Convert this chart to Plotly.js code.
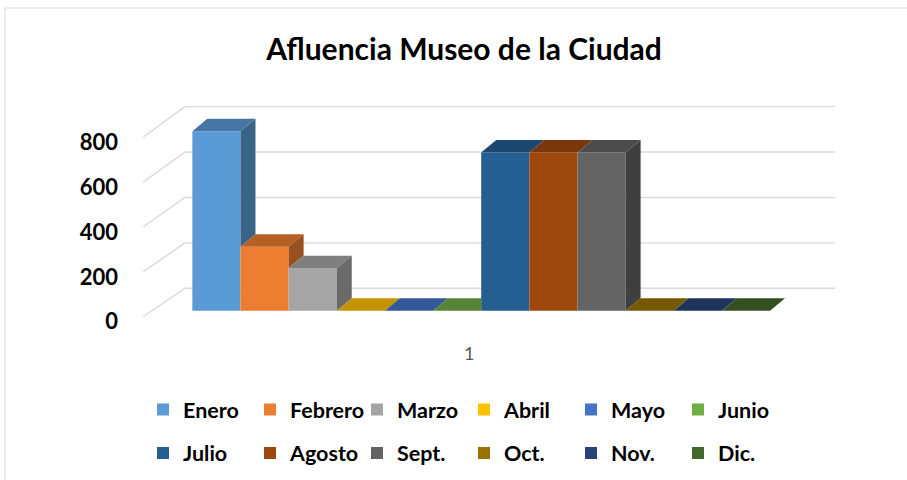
<!DOCTYPE html>
<html>
<head>
<meta charset="utf-8">
<script src="https://cdn.plot.ly/plotly-3.0.1.min.js"></script>
<style>html,body{margin:0;padding:0;background:#fff;}#chart{width:907px;height:480px;}</style>
</head>
<body>
<div id="chart"></div>
<script>
// ---- data ----
const categories = ['1'];
const months = ['Enero','Febrero','Marzo','Abril','Mayo','Junio','Julio','Agosto','Sept.','Oct.','Nov.','Dic.'];
const visitors = [800, 285, 190, 0, 0, 0, 705, 705, 705, 0, 0, 0];
const yTicks = [0, 200, 400, 600, 800];
const yTickText = ['0', '200', '400', '600', '800'];
const colors = ['#5B9BD5','#ED7D31','#A5A5A5','#FFC000','#4472C4','#70AD47',
                '#255E91','#9E480E','#636363','#997300','#264478','#43682B'];

// ---- layout geometry (styling) ----
const W = 907, H = 480;
const M = {l: 143, r: 72, t: 100, b: 147};
const plotW = W - M.l - M.r, plotH = H - M.t - M.b;
const xRange = [-0.4887, 0.5113];
const yRange = [-99.4, 939];
const bargap = 0.1652;
const pxX = plotW / (xRange[1] - xRange[0]);
const pxY = plotH / (yRange[1] - yRange[0]);
const depthX = 15 / pxX, depthY = 12.4 / pxY;      // bar depth
const wallX = 42 / pxX;                             // side wall depth

function shade(hex, f) {
  const n = parseInt(hex.slice(1), 16);
  const r = Math.round(((n >> 16) & 255) * f), g = Math.round(((n >> 8) & 255) * f), b = Math.round((n & 255) * f);
  return 'rgb(' + r + ',' + g + ',' + b + ')';
}

const traces = [];
const n = months.length;
const groupW = 1 - bargap, barW = groupW / n;
// front faces: real bar traces
months.forEach((m, i) => {
  traces.push({
    type: 'bar', name: m, x: [0], y: [visitors[i]],
    marker: {color: colors[i], line: {width: 0}},
    legend: i < 6 ? 'legend' : 'legend2',
    hoverinfo: 'name+y'
  });
});
// 3D top and side faces derived from the same values
months.forEach((m, i) => {
  const v = visitors[i];
  const next = i < n - 1 ? visitors[i + 1] : 0;
  const x1 = -groupW / 2 + i * barW, x2 = x1 + barW;
  let tx, ty;
  if (next > v) {
    const h = Math.min(next, v + depthY);
    const xd = x2 + depthX * (h - v) / depthY;
    tx = [x1, x2, x2, xd, x2 + depthX, x1 + depthX, x1];
    ty = [v, v, h, h, v + depthY, v + depthY, v];
  } else {
    tx = [x1, x2, x2 + depthX, x1 + depthX, x1];
    ty = [v, v, v + depthY, v + depthY, v];
  }
  traces.push({type: 'scatter', mode: 'lines', x: tx, y: ty, fill: 'toself',
    fillcolor: shade(colors[i], 0.77), line: {width: 0}, showlegend: false, hoverinfo: 'skip'});
  if (v > next) {
    traces.push({type: 'scatter', mode: 'lines',
      x: [x2, x2 + depthX, x2 + depthX, x2, x2],
      y: [next, next + depthY, v + depthY, v, next],
      fill: 'toself', fillcolor: shade(colors[i], 0.64), line: {width: 0},
      showlegend: false, hoverinfo: 'skip'});
  }
});

// wall gridlines
const gridColor = '#d9d9d9';
const shapes = [];
yTicks.forEach(t => {
  const fy = t - 27, by = 1.012 * t + 100;
  shapes.push({type: 'line', xref: 'x', yref: 'y', x0: xRange[0], y0: fy, x1: xRange[0] + wallX, y1: by,
    line: {color: gridColor, width: 1.4}, layer: 'below'});
  shapes.push({type: 'line', xref: 'x', yref: 'y', x0: xRange[0] + wallX, y0: by, x1: xRange[1], y1: by,
    line: {color: gridColor, width: 1.4}, layer: 'below'});
});
// chart border
shapes.push({type: 'rect', xref: 'paper', yref: 'paper',
  x0: (5 - M.l) / plotW, x1: (W + 20 - M.l) / plotW,
  y0: -(H + 20 - M.t - plotH) / plotH, y1: (M.t + plotH - 8) / plotH,
  line: {color: '#d9d9d9', width: 1}, layer: 'below'});

const legendBase = {
  orientation: 'h', xref: 'container', yref: 'container',
  x: 143 / W, xanchor: 'left', yanchor: 'middle',
  font: {family: 'Lato, sans-serif', size: 21.5, color: '#000', weight: 'bold'},
  entrywidth: 62, entrywidthmode: 'pixels', bgcolor: 'rgba(0,0,0,0)', traceorder: 'normal'
};

const layout = {
  width: W, height: H, margin: M,
  paper_bgcolor: '#fff', plot_bgcolor: 'rgba(0,0,0,0)',
  font: {family: 'Lato, sans-serif'},
  title: {text: 'Afluencia Museo de la Ciudad', x: 464 / W, xanchor: 'center', xref: 'container',
    y: 1 - 49 / H, yanchor: 'middle', yref: 'container',
    font: {family: 'Lato, sans-serif', size: 30, color: '#000', weight: 'bold'}},
  barmode: 'group', bargap: bargap, bargroupgap: 0,
  xaxis: {range: xRange, tickvals: [0], ticktext: categories, showgrid: false, zeroline: false,
    showline: false, ticks: '', tickfont: {family: 'Lato, sans-serif', size: 18, color: '#595959'},
    ticklabelshift: -12, ticklabelstandoff: 8, fixedrange: true},
  yaxis: {range: yRange, tickvals: yTicks, ticktext: yTickText, showgrid: false, zeroline: false,
    showline: false, ticks: '', tickfont: {family: 'Lato, sans-serif', size: 22, color: '#000', weight: 'bold'},
    ticklabelshift: 11, ticklabelstandoff: 24, fixedrange: true},
  legend: Object.assign({}, legendBase, {y: 1 - 409.5 / H}),
  legend2: Object.assign({}, legendBase, {y: 1 - 453 / H}),
  shapes: shapes,
  showlegend: true
};

Plotly.newPlot('chart', traces, layout, {displayModeBar: false, staticPlot: true});
</script>
</body>
</html>
